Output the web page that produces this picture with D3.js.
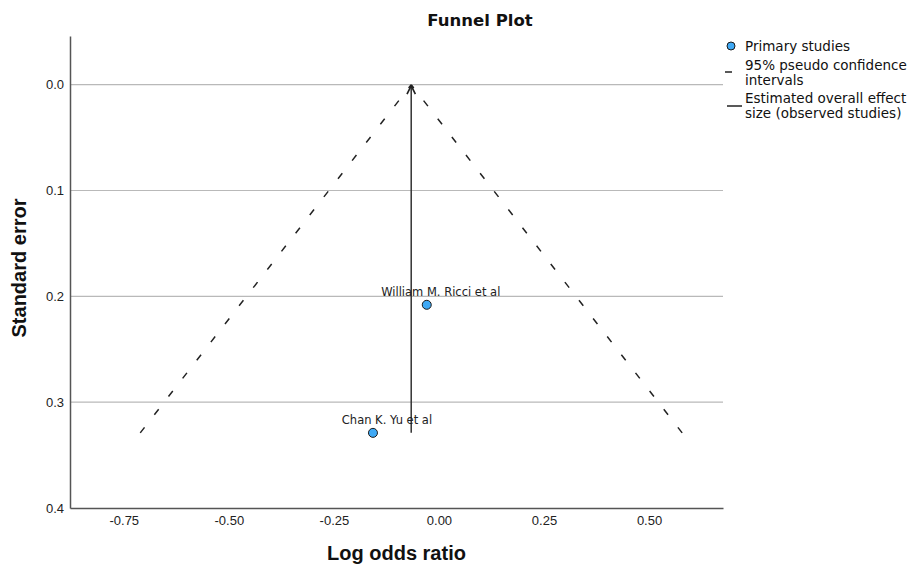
<!DOCTYPE html>
<html>
<head>
<meta charset="utf-8">
<script src="https://cdn.jsdelivr.net/npm/d3@7"></script>
<style>
  body { margin: 0; background: #fff; }
  svg { display: block; font-family: "DejaVu Sans", sans-serif; }
</style>
</head>
<body>
<div id="funnel"></div>
<script>
// Study data
const studies = ["William M. Ricci et al", "Chan K. Yu et al"];
const logOddsRatio = [-0.029, -0.157];
const standardError = [0.208, 0.329];
const overallEffect = -0.066;

const xTicks = [-0.75, -0.5, -0.25, 0, 0.25, 0.5];
const yTicks = [0, 0.1, 0.2, 0.3, 0.4];
const gridTicks = [0, 0.1, 0.2, 0.3];

const width = 919, height = 565;

const svg = d3.select("#funnel")
    .append("svg")
    .attr("width", width)
    .attr("height", height);

const x = d3.scaleLinear()
    .domain([-0.878, 0.676])
    .range([70, 723]);

const y = d3.scaleLinear()
    .domain([-0.046, 0.4])
    .range([36, 508]);

// horizontal grid lines
svg.append("g")
    .selectAll("line")
    .data(gridTicks)
    .join("line")
    .attr("x1", x.range()[0])
    .attr("x2", x.range()[1])
    .attr("y1", d => y(d))
    .attr("y2", d => y(d))
    .attr("stroke", "#b9b9b9")
    .attr("stroke-width", 1.2);

// axes
const xAxis = svg.append("g")
    .attr("transform", `translate(0,${y.range()[1]})`)
    .call(d3.axisBottom(x).tickValues(xTicks).tickSize(0).tickPadding(8).tickFormat(d => d.toFixed(2)));

const yAxis = svg.append("g")
    .attr("transform", `translate(${x.range()[0]},0)`)
    .call(d3.axisLeft(y).tickValues(yTicks).tickSize(0).tickPadding(6).tickFormat(d => d.toFixed(1)));

[xAxis, yAxis].forEach(a => {
    a.select(".domain").attr("stroke", "#555").attr("stroke-width", 1.5);
    a.selectAll("text").style("font-size", "13px").attr("fill", "#222");
});

// funnel: 95% pseudo confidence limits
const maxSE = d3.max(standardError);
const funnel = [
    [[overallEffect - 1.96 * maxSE, maxSE], [overallEffect, 0]],
    [[overallEffect + 1.96 * maxSE, maxSE], [overallEffect, 0]]
];
const line = d3.line().x(d => x(d[0])).y(d => y(d[1]));

svg.append("g")
    .selectAll("path")
    .data(funnel)
    .join("path")
    .attr("d", line)
    .attr("fill", "none")
    .attr("stroke", "#222")
    .attr("stroke-width", 1.5)
    .attr("stroke-dasharray", "7,16");

// overall effect line with arrow head
svg.append("defs").append("marker")
    .attr("id", "arrow")
    .attr("viewBox", "0 0 10 10")
    .attr("refX", 9).attr("refY", 5)
    .attr("markerWidth", 7).attr("markerHeight", 7)
    .attr("orient", "auto")
    .append("path")
    .attr("d", "M1,1 L9,5 L1,9")
    .attr("fill", "none")
    .attr("stroke", "#222")
    .attr("stroke-width", 1.6);

svg.append("line")
    .attr("x1", x(overallEffect))
    .attr("x2", x(overallEffect))
    .attr("y1", y(maxSE))
    .attr("y2", y(0) + 1)
    .attr("stroke", "#333")
    .attr("stroke-width", 1.5)
    .attr("marker-end", "url(#arrow)");

// study points with labels
const pts = studies.map((s, i) => ({name: s, x: logOddsRatio[i], se: standardError[i]}));

svg.append("g")
    .selectAll("text")
    .data(pts)
    .join("text")
    .attr("x", d => x(d.x) + 14)
    .attr("y", d => y(d.se) - 9)
    .attr("text-anchor", "middle")
    .style("font-size", "11.5px")
    .attr("fill", "#222")
    .text(d => d.name);

svg.append("g")
    .selectAll("circle")
    .data(pts)
    .join("circle")
    .attr("cx", d => x(d.x))
    .attr("cy", d => y(d.se))
    .attr("r", 4.5)
    .attr("fill", "#3fa9f5")
    .attr("stroke", "#1a1a1a")
    .attr("stroke-width", 1);

// titles
svg.append("text")
    .attr("x", 480)
    .attr("y", 26)
    .attr("text-anchor", "middle")
    .style("font-size", "16.5px")
    .style("font-weight", "bold")
    .attr("fill", "#111")
    .text("Funnel Plot");

svg.append("text")
    .attr("x", (x.range()[0] + x.range()[1]) / 2)
    .attr("y", 560)
    .attr("text-anchor", "middle")
    .style("font-family", "Liberation Sans, sans-serif")
    .style("font-size", "20px")
    .style("font-weight", "bold")
    .attr("fill", "#111")
    .text("Log odds ratio");

svg.append("text")
    .attr("transform", "translate(26,268) rotate(-90)")
    .attr("text-anchor", "middle")
    .style("font-family", "Liberation Sans, sans-serif")
    .style("font-size", "20px")
    .style("font-weight", "bold")
    .attr("fill", "#111")
    .text("Standard error");

// legend
const legend = svg.append("g").attr("transform", "translate(745,0)");
const legendFont = "13.5px";

legend.append("circle")
    .attr("cx", -14).attr("cy", 46).attr("r", 4)
    .attr("fill", "#3fa9f5").attr("stroke", "#1a1a1a");
legend.append("line")
    .attr("x1", -20).attr("x2", -13).attr("y1", 72).attr("y2", 72)
    .attr("stroke", "#222").attr("stroke-width", 1.5);
legend.append("line")
    .attr("x1", -18).attr("x2", -3).attr("y1", 106).attr("y2", 106)
    .attr("stroke", "#222").attr("stroke-width", 1.5);

const legendLines = [
    ["Primary studies", 46],
    ["95% pseudo confidence", 65],
    ["intervals", 80],
    ["Estimated overall effect", 98],
    ["size (observed studies)", 113]
];
legend.selectAll("text.lg")
    .data(legendLines)
    .join("text")
    .attr("class", "lg")
    .attr("x", 0)
    .attr("y", d => d[1])
    .attr("dy", "0.35em")
    .style("font-size", legendFont)
    .attr("fill", "#111")
    .text(d => d[0]);
</script>
</body>
</html>
